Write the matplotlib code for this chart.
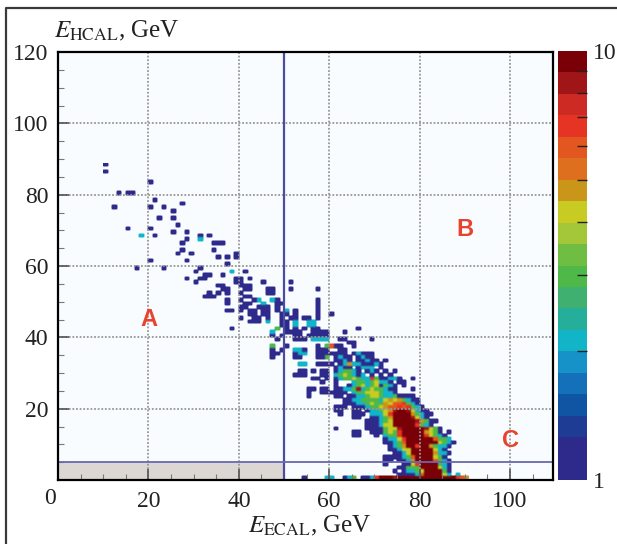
#!/usr/bin/env python
import numpy as np
import matplotlib
matplotlib.use('Agg')
import matplotlib.pyplot as plt
from matplotlib.colors import ListedColormap, LogNorm
from matplotlib.lines import Line2D

# colour bar levels, bottom to top
level_colors = ['#2e2a8c', '#2e2a8c', '#1e3c94', '#0f55a4', '#1470b8', '#1692c8',
                '#12b5c8', '#25ae9a', '#3fb070', '#4eb848', '#6fbd42', '#a4c73a',
                '#c8cc22', '#c9961a', '#de6f1e', '#e2561f', '#e53324', '#cc2a22',
                '#a01518', '#7a0008']

# sparse cells: energy bins holding 1 event
one_y = [88, 86, 83, 80, 78, 77, 76, 75, 73, 71, 70, 69, 68, 67, 66, 64, 63, 62, 61, 60,
         59, 58, 57, 56, 55, 54, 53, 52, 51, 50, 49, 48, 47, 46, 45, 44, 43, 42, 41, 40,
         39, 37, 36, 35, 34, 32, 30, 29, 28, 27, 25, 24, 23, 19, 14]
one_x = [[10], [10], [20], [13, 15, 16], [21], [27], [12, 20, 23], [25], [22, 25], [26],
         [15, 20], [25, 28], [21, 31, 33], [28], [27, 34, 35, 36], [27, 34], [26, 29, 39],
         [35, 37, 39], [20, 28], [37], [17, 23, 31], [30, 41], [32, 33, 36],
         [28, 31, 32, 39, 40, 42], [30, 39, 40, 45, 51], [35, 36, 40, 41, 42],
         [36, 37, 41, 42, 46, 47, 51, 57], [33, 35, 37, 40, 46, 47], [32, 33, 34, 41, 42],
         [37, 40, 43, 48, 57], [37, 41, 42, 48, 49, 57], [40, 41, 44, 45, 46, 48, 57],
         [37, 38, 40, 42, 43, 45, 46, 48, 52, 57], [42, 43, 45, 46, 49, 50, 52, 57, 60],
         [40, 43, 44, 46, 49, 51, 52, 54, 55, 57], [42, 43, 44, 49, 50], [49, 50],
         [38, 50, 52, 54, 56, 57], [50, 51, 52, 53, 56, 57, 58, 59],
         [47, 49, 52, 53, 55, 56, 57, 58, 59], [48, 52, 53, 54], [50, 57, 61],
         [47, 49, 54, 57, 58, 59], [47, 48, 52, 57, 58, 59, 60, 61], [47, 52, 53, 57, 58],
         [57, 58, 59], [53, 54, 56, 58, 59], [52, 53, 54, 58, 59], [56, 57, 59], [58],
         [55, 56, 58, 59], [55, 58, 59, 60], [55], [61], [61]]

# a few isolated cells with more counts
few_x = [18, 31, 38, 44, 47, 45, 50, 46, 52, 55, 56, 52, 55, 56, 47, 56, 57, 58, 59, 52, 53,
         53, 54, 53, 54, 48, 47, 59, 59, 60]
few_y = [68, 67, 58, 50, 50, 49, 47, 44, 44, 44, 44, 43, 43, 43, 41, 39, 39, 39, 39, 36, 36,
         35, 35, 32, 32, 42, 37, 37, 34, 37]
few_v = [2, 2, 2, 2, 2, 2, 2, 2, 2, 2, 2, 2, 2, 2, 2, 2, 2, 2, 2, 2, 2,
         2, 2, 2, 2, 3, 3, 3, 3, 6]

# dense band, one row per energy bin: y, first x, counts ('.' empty, X is 10 or more)
band_y = [42, 41, 39, 38, 37, 36, 35, 34, 33, 32, 31, 30, 29, 28, 27, 26, 25, 24, 23, 22,
          21, 20, 19, 18, 17, 16, 15, 14, 13, 12, 11, 10, 9, 8, 7, 6, 5, 4, 3, 2, 1, 0]
band_x = [66, 63, 62, 64, 62, 62, 62, 61, 61, 60, 61, 61, 61, 61, 61, 61, 61, 61, 61, 63,
          63, 61, 62, 62, 65, 68, 68, 62, 65, 65, 72, 72, 73, 73, 74, 72, 72, 72, 75, 74, 75, 54]
band_v = ['1', '1', '11.....1', '11', '1..1', '11', '11.12111', '1211.1211', '1121.11211.1',
          '1.1252211121', '1211.1222.1', '123321.121.1.1', '2343212.1.1.1',
          '123343227311221..1', '1...233234221.11', '1..12342341321.1',
          '11223823433211...1', '111.2334443221', '11.112234432231111',
          '11223333245453211', '11122343354667321', '111.1112334566767321',
          '1..11.12234589984211', '1..111.22247XXX953211', '11..11235XXXX8421',
          '111234XXXXX85311', '111244XXXXX7321', '......11113448XXXXX8431',
          '11..1113437XXXXX5431.1', '11...1.2337XXXXX74321', '12247XXXXXX6332',
          '11236XXXXXX94321', '1235XX7XX53221', '11244XXXXX421', '1124XXXXX5221',
          '1111236XXXX431', '11.1125XXXX6321', '1...1147XXXX321', '11333XXXX421',
          '1.12234XXXX31', '111126XXXX42.2', '1....22..123.11279XX89XX9XXXXXXX9X765']


def soften(image, dpi):
    # the printed figure is a little blurred, so spread the cells by about a pixel
    img = image.copy()
    img[..., :3] *= img[..., 3:]
    kernel = np.array([1, 2, 1]) / 4.0
    for axis in (0, 1):
        img = np.apply_along_axis(lambda m: np.convolve(m, kernel, mode='same'), axis, img)
    alpha = np.clip(img[..., 3:] * 2.0, 0, 1)
    rgb = img[..., :3] / np.maximum(img[..., 3:], 1e-3)
    return np.concatenate([np.clip(rgb, 0, 1), alpha], axis=2), 0, 0


# fill the 1 GeV x 1 GeV histogram
counts = np.zeros((120, 110))
for y, xs in zip(one_y, one_x):
    for x in xs:
        counts[y, x] = 1
for x, y, v in zip(few_x, few_y, few_v):
    counts[y, x] = v
for y, x0, row in zip(band_y, band_x, band_v):
    for i, c in enumerate(row):
        if c == 'X':
            counts[y, x0 + i] = 10
        elif c != '.':
            counts[y, x0 + i] = int(c)

plt.rcParams['font.family'] = ['Liberation Serif', 'DejaVu Serif']
plt.rcParams['mathtext.fontset'] = 'stix'

fig = plt.figure(figsize=(6.17, 5.44), dpi=100)
W, H = 617.0, 544.0
ax = fig.add_axes([58 / W, 1 - 480 / H, 495 / W, 428 / H], facecolor='#f9fcfe')

# shaded corner under the box
ax.axhspan(0, 5, xmin=0, xmax=50 / 109.5, color='#dcd7d2', lw=0, zorder=0.5)

cmap = ListedColormap(level_colors)
mesh = ax.pcolormesh(np.arange(111), np.arange(121), np.ma.masked_equal(counts, 0),
                     cmap=cmap, norm=LogNorm(1, 10), zorder=1)
mesh.set_agg_filter(soften)

ax.set_xlim(0, 109.5)
ax.set_ylim(0, 120)
ax.set_xticks([20, 40, 60, 80, 100])
ax.set_yticks([20, 40, 60, 80, 100, 120])
ax.set_xticks(np.arange(5, 110, 5), minor=True)
ax.set_yticks(np.arange(5, 120, 5), minor=True)
ax.tick_params(which='major', direction='in', length=8, width=1.2, color='#555555',
               labelsize=17, pad=8, labelcolor='#222222')
ax.tick_params(which='minor', direction='in', length=4, width=0.8, color='#777777')
ax.tick_params(axis='y', which='major', pad=7)
ax.set_axisbelow(False)
ax.grid(True, which='major', color='#979797', ls=(0, (1, 1)), lw=1.3, zorder=2)
for s in ax.spines.values():
    s.set_linewidth(1.6)
    s.set_zorder(5)

ax.axvline(50, color='#4c4c9e', lw=1.6, zorder=3)
ax.axhline(5, color='#6a68ae', lw=1.3, zorder=3)

for label, x, y in [('A', 20, 45), ('B', 90, 70.3), ('C', 100.1, 11)]:
    ax.text(x, y, label, color='#e8432f', fontsize=17, family='Liberation Sans',
            weight='bold', ha='center', va='center', zorder=4)

fig.text(50 / W, 1 - 498 / H, '0', fontsize=17, color='#222222', ha='center', va='center')
fig.text(310 / W, 1 - 526 / H, r'$E_{\mathrm{ECAL}}$, GeV', fontsize=18, color='#222222',
         ha='center', va='center')
fig.text(54 / W, 1 - 31 / H, r'$E_{\mathrm{HCAL}}$, GeV', fontsize=18, color='#222222',
         ha='left', va='center')

cax = fig.add_axes([558 / W, 1 - 480 / H, 29 / W, 429 / H])
cbar = fig.colorbar(mesh, cax=cax)
cbar.outline.set_visible(False)
cbar.set_ticks([1, 10], labels=['1', '10'])
cax.set_yticks(np.arange(2, 10), minor=True)
cax.set_yticklabels([], minor=True)
cax.tick_params(which='major', length=0, labelsize=17, pad=4, labelcolor='#222222')
cax.tick_params(which='minor', direction='in', length=7, width=1, color='#222222')

# outer frame of the figure panel
fig.add_artist(Line2D([6 / W, 6 / W, 1], [0, 1 - 8 / H, 1 - 8 / H], color='#3a3a3a', lw=1.6))

fig.savefig('out.png', dpi=100)
